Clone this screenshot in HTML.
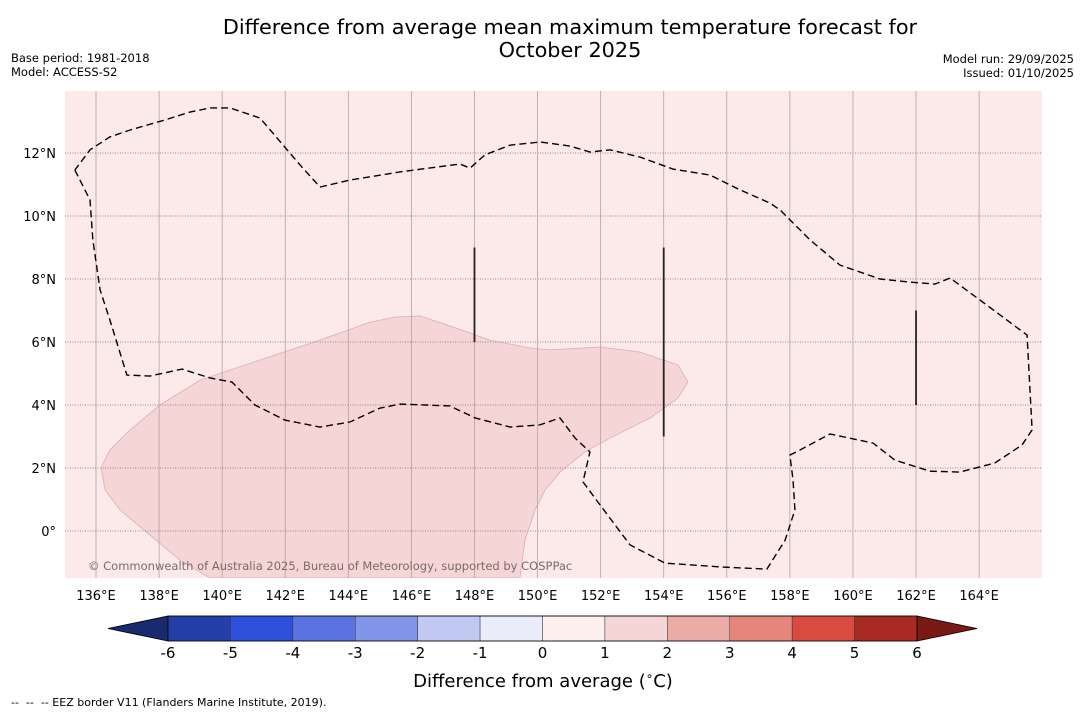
<!DOCTYPE html>
<html><head><meta charset="utf-8">
<style>
html,body{margin:0;padding:0;background:#fff;}
svg{display:block;font-family:"DejaVu Sans","Liberation Sans",sans-serif;}
</style></head>
<body>
<svg id="chart" width="1085" height="713" viewBox="0 0 1085 713">
<text x="570" y="34" text-anchor="middle" font-size="20.8" fill="#000">Difference from average mean maximum temperature forecast for</text>
<text x="570" y="57" text-anchor="middle" font-size="20.8" fill="#000">October 2025</text>
<text x="11" y="62" font-size="11.5">Base period: 1981-2018</text>
<text x="11" y="76" font-size="11.5">Model: ACCESS-S2</text>
<text x="1074" y="63" font-size="11.5" text-anchor="end">Model run: 29/09/2025</text>
<text x="1074" y="77" font-size="11.5" text-anchor="end">Issued: 01/10/2025</text>
<g id="map"></g>
<g id="cbar"></g>
<text x="543" y="687" text-anchor="middle" font-size="18">Difference from average (<tspan font-size="12" dy="-7">∘</tspan><tspan dy="7">C)</tspan></text>
<text x="11" y="706" font-size="11" xml:space="preserve">--  --  -- EEZ border V11 (Flanders Marine Institute, 2019).</text>
</svg>
<script>
const lonTicks=[136,138,140,142,144,146,148,150,152,154,156,158,160,162,164];
const latTicks=[0,2,4,6,8,10,12];
const cbLevels=[-6,-5,-4,-3,-2,-1,0,1,2,3,4,5,6];
const cbColors=["#2440a8","#2d4fdc","#5a73e0","#8196e8","#c1c9f2","#eaecf9","#fdf0ef","#f5d5d5","#ebaca6","#e5857c","#d94b40","#a82a22"];
const anomalyLon=[136.16,136.44,137.08,138.03,139.30,141.20,143.10,144.69,145.48,146.27,147.22,148.49,149.76,150.39,151.98,153.25,154.45,154.77,154.45,153.57,152.30,151.50,150.71,150.24,149.92,149.60,149.44,139.61,138.66,137.71,136.76,136.29];
const anomalyLat=[2.0,2.57,3.21,4.0,4.79,5.43,6.06,6.63,6.79,6.83,6.51,6.06,5.81,5.75,5.84,5.68,5.27,4.73,4.22,3.59,2.95,2.51,1.87,1.30,0.67,-0.29,-1.49,-1.49,-0.92,-0.13,0.67,1.30];
const eezLon=[135.33,135.81,135.90,136.13,136.44,136.98,137.71,138.73,139.61,140.31,141.04,141.99,143.10,144.05,145.0,145.64,147.22,148.02,149.13,150.08,150.71,151.19,151.66,151.44,151.98,152.93,154.04,155.78,157.27,157.85,158.16,158.10,158.0,158.32,159.27,160.64,161.33,162.44,163.39,164.50,165.36,165.68,165.52,164.03,163.08,162.60,161.81,160.86,159.59,158.64,157.69,157.37,156.42,155.47,154.29,153.25,152.30,151.66,151.03,150.08,149.13,148.33,147.86,147.54,145.64,144.05,143.10,142.47,141.20,140.25,139.61,138.98,138.19,137.08,136.44,135.81,135.33];
const eezLat=[11.46,10.51,9.24,7.65,6.70,4.95,4.92,5.14,4.86,4.73,4.0,3.52,3.30,3.46,3.90,4.03,3.97,3.59,3.30,3.37,3.59,2.95,2.51,1.56,0.83,-0.44,-1.02,-1.14,-1.21,-0.29,0.67,1.62,2.41,2.57,3.08,2.79,2.25,1.90,1.87,2.16,2.73,3.21,6.22,7.33,8.03,7.84,7.90,8.0,8.44,9.24,10.19,10.41,10.83,11.30,11.49,11.87,12.10,12.03,12.22,12.35,12.25,11.94,11.52,11.65,11.40,11.14,10.92,11.62,13.11,13.43,13.43,13.30,13.05,12.73,12.51,12.10,11.46];
const segLon=[148,154,162];
const segLat0=[9,9,7];
const segLat1=[6,3,4];
const NS="http://www.w3.org/2000/svg";
const X0=65,X1=1042,Y0=91,Y1=578;
const xs=lon=>96+(lon-136)*31.54;
const ys=lat=>531-lat*31.5;
function mk(tag,attrs,parent){const e=document.createElementNS(NS,tag);for(const k in attrs)e.setAttribute(k,attrs[k]);parent.appendChild(e);return e;}
const map=document.getElementById('map');
const bg=mk('rect',{x:X0,y:Y0,width:X1-X0,height:Y1-Y0,fill:'#fbeae9'},map);


const defs=mk('defs',{},map);
const cp=mk('clipPath',{id:'clip'},defs);
mk('rect',{x:X0,y:Y0,width:X1-X0,height:Y1-Y0},cp);
const g=mk('g',{'clip-path':'url(#clip)'},map);
const poly=mk('polygon',{points:anomalyLon.map((l,i)=>xs(l)+','+ys(anomalyLat[i])).join(' '),fill:'#f5d5d5',stroke:'#d9b0b0','stroke-width':0.8},g);


lonTicks.forEach(l=>{const ln=mk('line',{x1:xs(l),x2:xs(l),y1:Y0,y2:Y1,stroke:'#b8a0a0','stroke-width':0.8},g);

});
latTicks.forEach(l=>{const ln=mk('line',{x1:X0,x2:X1,y1:ys(l),y2:ys(l),stroke:'#9a8888','stroke-width':0.9,'stroke-dasharray':'1,1.5'},g);

});
const eez=mk('polyline',{points:eezLon.map((l,i)=>xs(l)+','+ys(eezLat[i])).join(' '),fill:'none',stroke:'#000','stroke-width':1.4,'stroke-dasharray':'7,4'},g);


segLon.forEach((l,i)=>{const s=mk('line',{x1:xs(l),x2:xs(l),y1:ys(segLat0[i]),y2:ys(segLat1[i]),stroke:'#222','stroke-width':1.8},g);

});
const cr=mk('text',{x:88,y:570,'font-size':11.5,fill:'#7a6a6a'},g);
cr.textContent='© Commonwealth of Australia 2025, Bureau of Meteorology, supported by COSPPac';


lonTicks.forEach(l=>{const t=mk('text',{x:xs(l),y:600,'font-size':13,'text-anchor':'middle'},map);t.textContent=l+'°E';

});
latTicks.forEach(l=>{const t=mk('text',{x:56,y:ys(l)+5,'font-size':13,'text-anchor':'end'},map);t.textContent=l===0?'0°':l+'°N';

});
const cb=document.getElementById('cbar');
const CB0=168,CB1=917,CBY=616,CBH=25;
const cx=v=>CB0+(v-cbLevels[0])/(cbLevels[cbLevels.length-1]-cbLevels[0])*(CB1-CB0);
const lt=mk('polygon',{points:`${CB0},${CBY} ${CB0},${CBY+CBH} 108,${CBY+CBH/2}`,fill:'#1a2a6e',stroke:'#000','stroke-width':0.8},cb);


const rt=mk('polygon',{points:`${CB1},${CBY} ${CB1},${CBY+CBH} 977,${CBY+CBH/2}`,fill:'#7a1a14',stroke:'#000','stroke-width':0.8},cb);


cbColors.forEach((c,i)=>{const r=mk('rect',{x:cx(cbLevels[i]),y:CBY,width:cx(cbLevels[i+1])-cx(cbLevels[i]),height:CBH,fill:c,stroke:'#333','stroke-width':0.5},cb);

});
mk('rect',{x:CB0,y:CBY,width:CB1-CB0,height:CBH,fill:'none',stroke:'#000','stroke-width':0.8},cb);
cbLevels.forEach(v=>{const t=mk('text',{x:cx(v),y:658,'font-size':15,'text-anchor':'middle'},cb);t.textContent=v;

});
</script>
</body></html>
